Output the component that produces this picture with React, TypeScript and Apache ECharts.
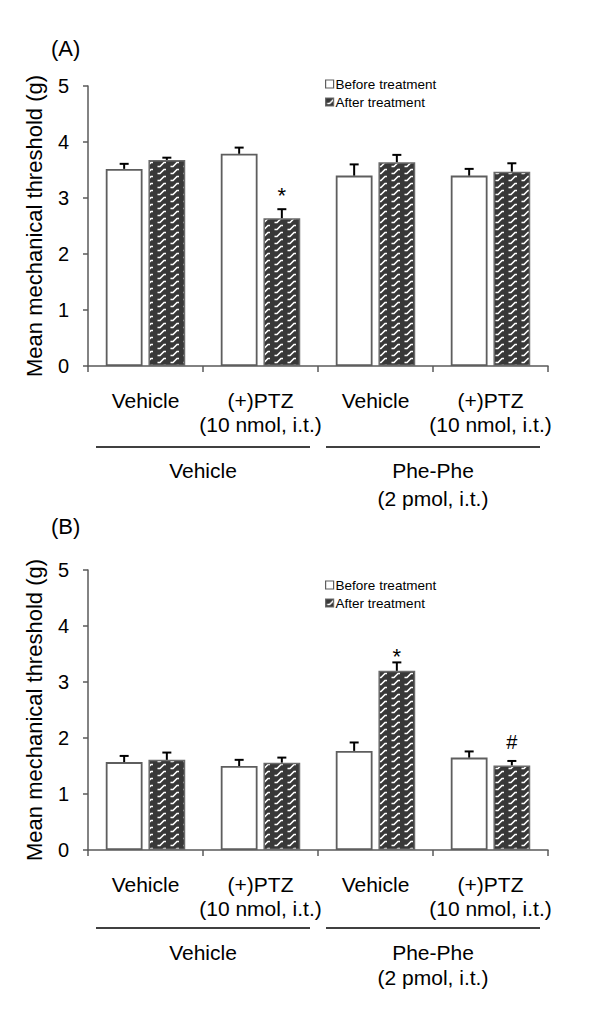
import React, { useEffect, useRef } from "react";
import * as echarts from "echarts";

const FONT = "'Liberation Sans', Arial, Helvetica, sans-serif";

const categories = ["Vehicle", "(+)PTZ\n(10 nmol, i.t.)", "Vehicle", "(+)PTZ\n(10 nmol, i.t.)"];
const groups = ["Vehicle", "Phe-Phe\n(2 pmol, i.t.)"];
const yTicks = [0, 5, 1]; // min, max, interval

// Panel A
const beforeA = [3.52, 3.79, 3.4, 3.4];
const beforeErrA = [0.09, 0.11, 0.2, 0.12];
const afterA = [3.68, 2.64, 3.64, 3.47];
const afterErrA = [0.04, 0.16, 0.13, 0.15];
const marksA = ["", "*", "", ""];
const markGapA = [0, 12, 0, 0];

// Panel B
const beforeB = [1.57, 1.5, 1.77, 1.65];
const beforeErrB = [0.11, 0.11, 0.15, 0.11];
const afterB = [1.61, 1.56, 3.2, 1.51];
const afterErrB = [0.13, 0.09, 0.15, 0.08];
const marksB = ["", "", "*", "#"];
const markGapB = [0, 0, 3, 13];

const BAR_W = 0.32;
const BAR_GAP = 0.16;
const OFFSET = (BAR_W + BAR_W * BAR_GAP) / 2;

function makePattern(): HTMLCanvasElement {
  const c = document.createElement("canvas");
  c.width = 13;
  c.height = 7;
  const ctx = c.getContext("2d")!;
  ctx.fillStyle = "#383838";
  ctx.fillRect(0, 0, 13, 7);
  ctx.strokeStyle = "#ffffff";
  ctx.lineWidth = 1.6;
  ctx.beginPath();
  ctx.moveTo(1.5, 5.5);
  ctx.lineTo(4, 5.5);
  ctx.lineTo(8, 1.5);
  ctx.lineTo(10, 1.5);
  ctx.stroke();
  return c;
}

export default function App() {
  const ref = useRef<HTMLDivElement>(null);

  useEffect(() => {
    if (!ref.current) return;
    const chart = echarts.init(ref.current, undefined, { renderer: "svg" });
    const pattern = makePattern();

    const axisColor = "#5a5a5a";

    const grids = [
      { left: 88, top: 86, width: 460, height: 280 },
      { left: 88, top: 570, width: 460, height: 280 },
    ];

    const xAxes: any[] = [];
    const yAxes: any[] = [];
    const series: any[] = [];
    const panels = [
      { before: beforeA, bErr: beforeErrA, after: afterA, aErr: afterErrA, marks: marksA, gaps: markGapA, groupLineGap: 81, groupLH: 28 },
      { before: beforeB, bErr: beforeErrB, after: afterB, aErr: afterErrB, marks: marksB, gaps: markGapB, groupLineGap: 78, groupLH: 25 },
    ];

    panels.forEach((p, gi) => {
      xAxes.push({
        type: "category",
        gridIndex: gi,
        position: "bottom",
        data: categories,
        axisLine: { show: true, lineStyle: { color: axisColor, width: 1.5 } },
        axisTick: { show: true, length: 6, interval: 0, lineStyle: { color: axisColor, width: 1.5 } },
        axisLabel: {
          interval: 0,
          margin: 22,
          color: "#000",
          fontSize: 21,
          lineHeight: 24,
          fontFamily: FONT,
        },
      });
      xAxes.push({
        type: "category",
        gridIndex: gi,
        position: "bottom",
        data: groups,
        axisLine: { show: false },
        axisTick: { show: false },
        axisLabel: {
          interval: 0,
          margin: 90,
          color: "#000",
          fontSize: 21,
          lineHeight: p.groupLH,
          fontFamily: FONT,
        },
      });
      yAxes.push({
        type: "value",
        gridIndex: gi,
        min: yTicks[0],
        max: yTicks[1],
        interval: yTicks[2],
        name: "Mean mechanical threshold (g)",
        nameLocation: "middle",
        nameGap: 43,
        nameTextStyle: { fontSize: 22, color: "#000", fontFamily: FONT },
        splitLine: { show: false },
        axisLine: { show: true, lineStyle: { color: axisColor, width: 1.5 } },
        axisTick: { show: true, length: 5, lineStyle: { color: axisColor, width: 1.5 } },
        axisLabel: { color: "#000", fontSize: 20, margin: 19, fontFamily: FONT },
      });

      const xCat = gi * 2;
      const xGrp = gi * 2 + 1;

      series.push({
        name: "Before treatment",
        type: "bar",
        xAxisIndex: xCat,
        yAxisIndex: gi,
        data: p.before,
        barWidth: `${BAR_W * 100}%`,
        barGap: `${BAR_GAP * 100}%`,
        itemStyle: { color: "#ffffff", borderColor: "#5e5e5e", borderWidth: 1.8 },
      });
      series.push({
        name: "After treatment",
        type: "bar",
        xAxisIndex: xCat,
        yAxisIndex: gi,
        barWidth: `${BAR_W * 100}%`,
        barGap: `${BAR_GAP * 100}%`,
        data: p.after.map((v, i) => ({
          value: v,
          label: {
            show: p.marks[i] !== "",
            formatter: p.marks[i],
            position: "top",
            distance: p.gaps[i],
            color: "#000",
            fontSize: p.marks[i] === "*" ? 22 : 20,
            fontFamily: FONT,
          },
        })),
        itemStyle: {
          color: { image: pattern, repeat: "repeat" },
          borderColor: "#6a6a6a",
          borderWidth: 1.5,
        },
      });

      const errData: any[] = [];
      p.before.forEach((v, i) => errData.push([i, v, p.bErr[i], -1]));
      p.after.forEach((v, i) => errData.push([i, v, p.aErr[i], 1]));
      series.push({
        type: "custom",
        xAxisIndex: xCat,
        yAxisIndex: gi,
        z: 5,
        silent: true,
        data: errData,
        renderItem: (params: any, api: any) => {
          const i = api.value(0);
          const v = api.value(1);
          const e = api.value(2);
          const side = api.value(3);
          const band = api.size([1, 0])[0];
          const base = api.coord([i, v]);
          const top = api.coord([i, v + e]);
          const x = base[0] + side * OFFSET * band;
          const cap = 4.5;
          return {
            type: "group",
            children: [
              { type: "line", shape: { x1: x, y1: base[1], x2: x, y2: top[1] }, style: { stroke: "#000", lineWidth: 2 } },
              { type: "line", shape: { x1: x - cap, y1: top[1], x2: x + cap, y2: top[1] }, style: { stroke: "#000", lineWidth: 2 } },
            ],
          };
        },
      });

      series.push({
        type: "custom",
        xAxisIndex: xGrp,
        yAxisIndex: gi,
        silent: true,
        clip: false,
        data: groups.map((_, i) => [i, 0]),
        renderItem: (params: any, api: any) => {
          const i = api.value(0);
          const band = api.size([1, 0])[0];
          const c = api.coord([i, 0]);
          const y = c[1] + p.groupLineGap;
          const half = band / 2 - 8;
          return {
            type: "line",
            shape: { x1: c[0] - half, y1: y, x2: c[0] + half, y2: y },
            style: { stroke: "#000", lineWidth: 1.6 },
          };
        },
      });
    });

    const legendBase = {
      data: ["Before treatment", "After treatment"],
      orient: "vertical",
      left: 320,
      itemWidth: 8,
      itemHeight: 8,
      itemGap: 4,
      icon: "rect",
      textStyle: { fontSize: 13.5, color: "#000", fontFamily: FONT, lineHeight: 14, padding: [0, 0, 0, -3] },
      itemStyle: { borderWidth: 1.2 },
    };

    chart.setOption({
      animation: false,
      textStyle: { fontFamily: FONT },
      title: [
        { text: "(A)", left: 46, top: 32, textStyle: { fontSize: 22, fontWeight: "normal", color: "#000", fontFamily: FONT } },
        { text: "(B)", left: 46, top: 510, textStyle: { fontSize: 22, fontWeight: "normal", color: "#000", fontFamily: FONT } },
      ],
      legend: [
        { ...legendBase, top: 72 },
        { ...legendBase, top: 573 },
      ],
      grid: grids,
      xAxis: xAxes,
      yAxis: yAxes,
      series,
    });

    return () => chart.dispose();
  }, []);

  return (
    <div
      ref={ref}
      style={{ position: "absolute", left: 0, top: 0, width: 600, height: 1011, background: "#fff" }}
    />
  );
}
